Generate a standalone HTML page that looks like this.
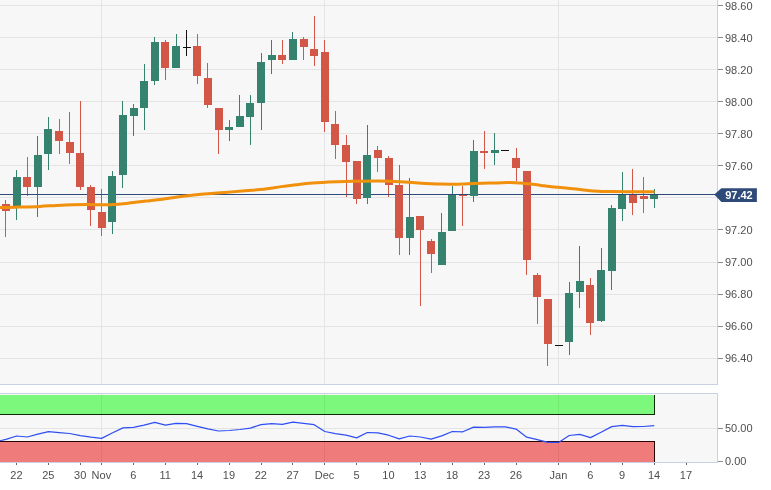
<!DOCTYPE html>
<html><head><meta charset="utf-8"><title>Chart</title>
<style>html,body{margin:0;padding:0;background:#fff}svg{display:block}text{font-family:"Liberation Sans",Arial,sans-serif;font-size:11px;fill:#4f4f4f}</style></head><body>
<svg width="771" height="490" viewBox="0 0 771 490">
<rect width="771" height="490" fill="#fff"/>
<g shape-rendering="crispEdges">
<rect x="0" y="0" width="717" height="384" fill="#f7f7f7"/>
<rect x="0" y="394" width="717" height="68" fill="#f7f7f7"/>
<rect x="0" y="5" width="717" height="1" fill="#e4e4e4"/>
<rect x="0" y="37" width="717" height="1" fill="#e4e4e4"/>
<rect x="0" y="69" width="717" height="1" fill="#e4e4e4"/>
<rect x="0" y="101" width="717" height="1" fill="#e4e4e4"/>
<rect x="0" y="133" width="717" height="1" fill="#e4e4e4"/>
<rect x="0" y="165" width="717" height="1" fill="#e4e4e4"/>
<rect x="0" y="197" width="717" height="1" fill="#e4e4e4"/>
<rect x="0" y="229" width="717" height="1" fill="#e4e4e4"/>
<rect x="0" y="262" width="717" height="1" fill="#e4e4e4"/>
<rect x="0" y="294" width="717" height="1" fill="#e4e4e4"/>
<rect x="0" y="326" width="717" height="1" fill="#e4e4e4"/>
<rect x="0" y="358" width="717" height="1" fill="#e4e4e4"/>
<rect x="0" y="428" width="717" height="1" fill="#e4e4e4"/>
<rect x="101" y="0" width="1" height="384" fill="#e4e4e4"/>
<rect x="101" y="394" width="1" height="68" fill="#e4e4e4"/>
<rect x="324" y="0" width="1" height="384" fill="#e4e4e4"/>
<rect x="324" y="394" width="1" height="68" fill="#e4e4e4"/>
<rect x="558" y="0" width="1" height="384" fill="#e4e4e4"/>
<rect x="558" y="394" width="1" height="68" fill="#e4e4e4"/>
<rect x="0" y="384" width="718" height="1" fill="#cbd0e4"/>
<rect x="0" y="393" width="718" height="1" fill="#cbd0e4"/>
<rect x="0" y="462" width="718" height="1" fill="#cbd0e4"/>
<rect x="717" y="0" width="1" height="385" fill="#cbd0e4"/>
<rect x="717" y="393" width="1" height="70" fill="#cbd0e4"/>
<rect x="5" y="200" width="1" height="37" fill="#d35746"/>
<rect x="16" y="170" width="1" height="50" fill="#35836f"/>
<rect x="27" y="157" width="1" height="39" fill="#d35746"/>
<rect x="37" y="136" width="1" height="81" fill="#35836f"/>
<rect x="48" y="117" width="1" height="53" fill="#35836f"/>
<rect x="59" y="119" width="1" height="35" fill="#d35746"/>
<rect x="69" y="112" width="1" height="52" fill="#d35746"/>
<rect x="80" y="101" width="1" height="89" fill="#d35746"/>
<rect x="90" y="185" width="1" height="41" fill="#d35746"/>
<rect x="101" y="189" width="1" height="47" fill="#d35746"/>
<rect x="112" y="171" width="1" height="63" fill="#35836f"/>
<rect x="122" y="101" width="1" height="87" fill="#35836f"/>
<rect x="133" y="104" width="1" height="32" fill="#35836f"/>
<rect x="144" y="64" width="1" height="66" fill="#35836f"/>
<rect x="154" y="37" width="1" height="48" fill="#35836f"/>
<rect x="165" y="40" width="1" height="40" fill="#d35746"/>
<rect x="176" y="34" width="1" height="34" fill="#35836f"/>
<rect x="186" y="30" width="1" height="26" fill="#111"/>
<rect x="197" y="34" width="1" height="50" fill="#d35746"/>
<rect x="207" y="63" width="1" height="45" fill="#d35746"/>
<rect x="218" y="108" width="1" height="46" fill="#d35746"/>
<rect x="229" y="120" width="1" height="21" fill="#35836f"/>
<rect x="239" y="95" width="1" height="32" fill="#35836f"/>
<rect x="250" y="95" width="1" height="50" fill="#35836f"/>
<rect x="261" y="53" width="1" height="77" fill="#35836f"/>
<rect x="271" y="40" width="1" height="34" fill="#35836f"/>
<rect x="282" y="40" width="1" height="24" fill="#d35746"/>
<rect x="292" y="32" width="1" height="28" fill="#35836f"/>
<rect x="303" y="37" width="1" height="23" fill="#d35746"/>
<rect x="314" y="16" width="1" height="50" fill="#d35746"/>
<rect x="324" y="40" width="1" height="92" fill="#d35746"/>
<rect x="335" y="111" width="1" height="48" fill="#d35746"/>
<rect x="346" y="135" width="1" height="62" fill="#d35746"/>
<rect x="356" y="161" width="1" height="43" fill="#d35746"/>
<rect x="367" y="125" width="1" height="79" fill="#35836f"/>
<rect x="377" y="146" width="1" height="26" fill="#d35746"/>
<rect x="388" y="156" width="1" height="41" fill="#d35746"/>
<rect x="399" y="165" width="1" height="90" fill="#d35746"/>
<rect x="409" y="178" width="1" height="77" fill="#35836f"/>
<rect x="420" y="216" width="1" height="90" fill="#d35746"/>
<rect x="431" y="239" width="1" height="34" fill="#d35746"/>
<rect x="441" y="213" width="1" height="52" fill="#35836f"/>
<rect x="452" y="186" width="1" height="45" fill="#35836f"/>
<rect x="462" y="186" width="1" height="40" fill="#d35746"/>
<rect x="473" y="140" width="1" height="62" fill="#35836f"/>
<rect x="484" y="131" width="1" height="38" fill="#d35746"/>
<rect x="494" y="133" width="1" height="32" fill="#35836f"/>
<rect x="516" y="148" width="1" height="33" fill="#d35746"/>
<rect x="526" y="171" width="1" height="104" fill="#d35746"/>
<rect x="537" y="273" width="1" height="51" fill="#d35746"/>
<rect x="547" y="299" width="1" height="67" fill="#d35746"/>
<rect x="569" y="282" width="1" height="73" fill="#35836f"/>
<rect x="579" y="246" width="1" height="62" fill="#35836f"/>
<rect x="590" y="278" width="1" height="57" fill="#d35746"/>
<rect x="601" y="248" width="1" height="74" fill="#35836f"/>
<rect x="611" y="205" width="1" height="85" fill="#35836f"/>
<rect x="622" y="172" width="1" height="49" fill="#35836f"/>
<rect x="632" y="169" width="1" height="46" fill="#d35746"/>
<rect x="643" y="177" width="1" height="36" fill="#d35746"/>
<rect x="654" y="189" width="1" height="19" fill="#35836f"/>
<rect x="0" y="194" width="717" height="1" fill="#2e4a78"/>
<rect x="2" y="204" width="8" height="7" fill="#d35746"/>
<rect x="13" y="177" width="8" height="29" fill="#35836f"/>
<rect x="23" y="177" width="8" height="10" fill="#d35746"/>
<rect x="34" y="155" width="8" height="32" fill="#35836f"/>
<rect x="44" y="129" width="8" height="25" fill="#35836f"/>
<rect x="55" y="131" width="8" height="10" fill="#d35746"/>
<rect x="66" y="142" width="8" height="11" fill="#d35746"/>
<rect x="76" y="153" width="8" height="34" fill="#d35746"/>
<rect x="87" y="187" width="8" height="23" fill="#d35746"/>
<rect x="98" y="212" width="8" height="16" fill="#d35746"/>
<rect x="108" y="176" width="8" height="46" fill="#35836f"/>
<rect x="119" y="115" width="8" height="60" fill="#35836f"/>
<rect x="130" y="108" width="8" height="8" fill="#35836f"/>
<rect x="140" y="81" width="8" height="27" fill="#35836f"/>
<rect x="151" y="42" width="8" height="39" fill="#35836f"/>
<rect x="161" y="42" width="8" height="26" fill="#d35746"/>
<rect x="172" y="46" width="8" height="22" fill="#35836f"/>
<rect x="183" y="47" width="8" height="1" fill="#111"/>
<rect x="193" y="46" width="8" height="30" fill="#d35746"/>
<rect x="204" y="78" width="8" height="27" fill="#d35746"/>
<rect x="215" y="108" width="8" height="22" fill="#d35746"/>
<rect x="225" y="127" width="8" height="3" fill="#35836f"/>
<rect x="236" y="116" width="8" height="11" fill="#35836f"/>
<rect x="246" y="103" width="8" height="14" fill="#35836f"/>
<rect x="257" y="62" width="8" height="41" fill="#35836f"/>
<rect x="268" y="55" width="8" height="5" fill="#35836f"/>
<rect x="278" y="55" width="8" height="5" fill="#d35746"/>
<rect x="289" y="39" width="8" height="21" fill="#35836f"/>
<rect x="300" y="39" width="8" height="8" fill="#d35746"/>
<rect x="310" y="49" width="8" height="7" fill="#d35746"/>
<rect x="321" y="52" width="8" height="70" fill="#d35746"/>
<rect x="331" y="124" width="8" height="21" fill="#d35746"/>
<rect x="342" y="145" width="8" height="17" fill="#d35746"/>
<rect x="353" y="161" width="8" height="38" fill="#d35746"/>
<rect x="363" y="155" width="8" height="43" fill="#35836f"/>
<rect x="374" y="150" width="8" height="8" fill="#d35746"/>
<rect x="385" y="158" width="8" height="27" fill="#d35746"/>
<rect x="395" y="185" width="8" height="53" fill="#d35746"/>
<rect x="406" y="217" width="8" height="21" fill="#35836f"/>
<rect x="416" y="216" width="8" height="14" fill="#d35746"/>
<rect x="427" y="241" width="8" height="13" fill="#d35746"/>
<rect x="438" y="232" width="8" height="33" fill="#35836f"/>
<rect x="448" y="195" width="8" height="36" fill="#35836f"/>
<rect x="459" y="195" width="8" height="1" fill="#d35746"/>
<rect x="470" y="151" width="8" height="45" fill="#35836f"/>
<rect x="480" y="151" width="8" height="2" fill="#d35746"/>
<rect x="491" y="150" width="8" height="3" fill="#35836f"/>
<rect x="501" y="150" width="8" height="1" fill="#111"/>
<rect x="512" y="158" width="8" height="10" fill="#d35746"/>
<rect x="523" y="171" width="8" height="89" fill="#d35746"/>
<rect x="533" y="275" width="8" height="22" fill="#d35746"/>
<rect x="544" y="299" width="8" height="45" fill="#d35746"/>
<rect x="555" y="345" width="8" height="1" fill="#111"/>
<rect x="565" y="293" width="8" height="49" fill="#35836f"/>
<rect x="576" y="281" width="8" height="11" fill="#35836f"/>
<rect x="586" y="285" width="8" height="38" fill="#d35746"/>
<rect x="597" y="270" width="8" height="51" fill="#35836f"/>
<rect x="608" y="208" width="8" height="63" fill="#35836f"/>
<rect x="618" y="195" width="8" height="14" fill="#35836f"/>
<rect x="629" y="195" width="8" height="8" fill="#d35746"/>
<rect x="640" y="196" width="8" height="3" fill="#d35746"/>
<rect x="650" y="195" width="8" height="4" fill="#35836f"/>
</g>
<path fill="none" stroke="#f0900c" stroke-width="3" d="M-3.0 207.6 C-2.5 207.6 -3.8 207.6 0.0 207.5 C3.8 207.4 13.3 207.3 20.0 207.1 C26.7 206.9 33.9 206.7 40.0 206.4 C46.1 206.1 51.1 205.7 56.6 205.4 C62.1 205.1 67.8 204.8 73.0 204.7 C78.2 204.6 82.8 204.6 88.0 204.6 C93.2 204.6 99.9 204.8 104.0 204.8 C108.1 204.8 109.8 204.7 112.6 204.6 C115.4 204.5 118.1 204.2 120.9 204.0 C123.7 203.8 126.4 203.4 129.2 203.1 C132.0 202.8 134.7 202.4 137.5 202.1 C140.3 201.8 141.7 201.6 145.8 201.1 C149.9 200.6 156.0 200.0 162.2 199.2 C168.4 198.4 176.1 197.2 183.0 196.3 C189.9 195.4 196.8 194.6 203.7 194.0 C210.6 193.4 217.6 193.1 224.5 192.5 C231.4 191.9 239.3 191.2 245.2 190.7 C251.1 190.2 254.9 190.1 260.0 189.6 C265.1 189.1 269.6 188.2 275.7 187.4 C281.8 186.6 290.3 185.4 296.5 184.7 C302.7 183.9 306.1 183.4 313.0 182.9 C319.9 182.4 330.4 182.0 338.0 181.7 C345.6 181.4 351.8 181.4 358.7 181.3 C365.6 181.2 372.6 181.0 379.5 181.1 C386.4 181.2 394.1 181.5 400.0 181.8 C405.9 182.1 408.3 182.3 415.0 182.7 C421.7 183.1 433.0 183.8 440.0 184.1 C447.0 184.3 451.3 184.3 456.9 184.2 C462.5 184.1 468.1 183.8 473.7 183.6 C479.3 183.4 485.0 183.3 490.6 183.1 C496.2 182.9 503.3 182.7 507.5 182.6 C511.7 182.5 513.1 182.6 515.9 182.7 C518.7 182.8 521.5 183.2 524.3 183.4 C527.1 183.7 529.9 183.9 532.7 184.2 C535.5 184.5 538.4 185.0 541.2 185.4 C544.0 185.8 546.8 186.3 549.6 186.6 C552.4 186.9 554.6 187.0 558.0 187.3 C561.4 187.6 566.0 188.0 570.0 188.4 C574.0 188.8 578.0 189.3 582.0 189.7 C586.0 190.1 589.0 190.6 593.7 190.9 C598.4 191.2 604.0 191.5 610.0 191.6 C616.0 191.7 622.6 191.7 630.0 191.7 C637.4 191.7 650.3 191.7 654.4 191.7"/>
<g shape-rendering="crispEdges">
<rect x="0" y="395" width="654" height="19" fill="#7cf87c"/>
<rect x="0" y="414" width="655" height="1" fill="#0c2a04"/>
<rect x="654" y="395" width="1" height="20" fill="#0c2a04"/>
<rect x="0" y="442" width="654" height="20" fill="#f07b7b"/>
<rect x="0" y="441" width="655" height="1" fill="#2a0505"/>
<rect x="654" y="441" width="1" height="21" fill="#2a0505"/>
<rect x="101" y="395" width="1" height="19" fill="#000" fill-opacity="0.06"/>
<rect x="101" y="442" width="1" height="20" fill="#000" fill-opacity="0.06"/>
<rect x="324" y="395" width="1" height="19" fill="#000" fill-opacity="0.06"/>
<rect x="324" y="442" width="1" height="20" fill="#000" fill-opacity="0.06"/>
<rect x="558" y="395" width="1" height="19" fill="#000" fill-opacity="0.06"/>
<rect x="558" y="442" width="1" height="20" fill="#000" fill-opacity="0.06"/>
</g>
<polyline fill="none" stroke="#2f4ff5" stroke-width="1.2" stroke-linejoin="round" points="-4.6,441.8 6.0,439.4 16.6,436.0 27.2,437.0 37.9,434.2 48.5,431.7 59.1,432.7 69.7,433.5 80.4,435.7 91.0,437.2 101.6,438.4 112.2,433.0 122.9,427.9 133.5,427.4 144.1,425.1 154.8,422.4 165.4,425.2 176.0,423.4 186.6,423.6 197.3,426.3 207.9,428.8 218.5,431.0 229.1,430.5 239.8,429.5 250.4,428.1 261.0,424.6 271.7,423.7 282.3,424.4 292.9,422.2 303.5,423.4 314.2,424.7 324.8,431.5 335.4,433.7 346.0,435.2 356.7,437.9 367.3,432.5 377.9,432.8 388.6,435.2 399.2,438.9 409.8,436.0 420.4,437.0 431.1,439.1 441.7,435.9 452.3,431.5 462.9,431.8 473.6,427.1 484.2,427.4 494.8,426.9 505.4,426.8 516.1,429.1 526.7,437.2 537.3,439.7 548.0,442.4 558.6,442.4 569.2,435.5 579.8,434.4 590.5,437.6 601.1,432.2 611.7,426.6 622.3,425.4 633.0,426.7 643.6,426.5 654.2,425.7"/>
<g shape-rendering="crispEdges">
<rect x="718" y="5" width="5" height="1" fill="#8c8c8c"/>
<rect x="718" y="37" width="5" height="1" fill="#8c8c8c"/>
<rect x="718" y="69" width="5" height="1" fill="#8c8c8c"/>
<rect x="718" y="101" width="5" height="1" fill="#8c8c8c"/>
<rect x="718" y="133" width="5" height="1" fill="#8c8c8c"/>
<rect x="718" y="165" width="5" height="1" fill="#8c8c8c"/>
<rect x="718" y="229" width="5" height="1" fill="#8c8c8c"/>
<rect x="718" y="262" width="5" height="1" fill="#8c8c8c"/>
<rect x="718" y="294" width="5" height="1" fill="#8c8c8c"/>
<rect x="718" y="326" width="5" height="1" fill="#8c8c8c"/>
<rect x="718" y="358" width="5" height="1" fill="#8c8c8c"/>
<rect x="718" y="428" width="5" height="1" fill="#8c8c8c"/>
<rect x="718" y="461" width="5" height="1" fill="#8c8c8c"/>
<rect x="16" y="463" width="1" height="2" fill="#666"/>
<rect x="48" y="463" width="1" height="2" fill="#666"/>
<rect x="80" y="463" width="1" height="2" fill="#666"/>
<rect x="101" y="463" width="1" height="2" fill="#666"/>
<rect x="133" y="463" width="1" height="2" fill="#666"/>
<rect x="165" y="463" width="1" height="2" fill="#666"/>
<rect x="197" y="463" width="1" height="2" fill="#666"/>
<rect x="229" y="463" width="1" height="2" fill="#666"/>
<rect x="261" y="463" width="1" height="2" fill="#666"/>
<rect x="292" y="463" width="1" height="2" fill="#666"/>
<rect x="324" y="463" width="1" height="2" fill="#666"/>
<rect x="356" y="463" width="1" height="2" fill="#666"/>
<rect x="388" y="463" width="1" height="2" fill="#666"/>
<rect x="420" y="463" width="1" height="2" fill="#666"/>
<rect x="452" y="463" width="1" height="2" fill="#666"/>
<rect x="484" y="463" width="1" height="2" fill="#666"/>
<rect x="516" y="463" width="1" height="2" fill="#666"/>
<rect x="558" y="463" width="1" height="2" fill="#666"/>
<rect x="590" y="463" width="1" height="2" fill="#666"/>
<rect x="622" y="463" width="1" height="2" fill="#666"/>
<rect x="654" y="463" width="1" height="2" fill="#666"/>
<rect x="686" y="463" width="1" height="2" fill="#666"/>
</g>
<text x="725" y="10">98.60</text>
<text x="725" y="42">98.40</text>
<text x="725" y="74">98.20</text>
<text x="725" y="106">98.00</text>
<text x="725" y="138">97.80</text>
<text x="725" y="170">97.60</text>
<text x="725" y="234">97.20</text>
<text x="725" y="266">97.00</text>
<text x="725" y="298">96.80</text>
<text x="725" y="330">96.60</text>
<text x="725" y="362">96.40</text>
<text x="725" y="432">50.00</text>
<text x="725" y="465">0.00</text>
<text x="16.4" y="479" text-anchor="middle">22</text>
<text x="48.3" y="479" text-anchor="middle">25</text>
<text x="80.2" y="479" text-anchor="middle">30</text>
<text x="101.4" y="479" text-anchor="middle">Nov</text>
<text x="133.3" y="479" text-anchor="middle">6</text>
<text x="165.2" y="479" text-anchor="middle">11</text>
<text x="197.1" y="479" text-anchor="middle">14</text>
<text x="228.9" y="479" text-anchor="middle">19</text>
<text x="260.8" y="479" text-anchor="middle">22</text>
<text x="292.7" y="479" text-anchor="middle">27</text>
<text x="324.6" y="479" text-anchor="middle">Dec</text>
<text x="356.5" y="479" text-anchor="middle">5</text>
<text x="388.4" y="479" text-anchor="middle">10</text>
<text x="420.2" y="479" text-anchor="middle">13</text>
<text x="452.1" y="479" text-anchor="middle">18</text>
<text x="484.0" y="479" text-anchor="middle">23</text>
<text x="515.9" y="479" text-anchor="middle">26</text>
<text x="558.4" y="479" text-anchor="middle">Jan</text>
<text x="590.3" y="479" text-anchor="middle">6</text>
<text x="622.1" y="479" text-anchor="middle">9</text>
<text x="654.0" y="479" text-anchor="middle">14</text>
<text x="685.9" y="479" text-anchor="middle">17</text>
<path d="M714.3 194.6 L721.4 188.2 H756.9 V201.9 H721.4 Z" fill="#2e4a78"/>
<text x="725.2" y="199" style="font-weight:bold;fill:#fff">97.42</text>
</svg></body></html>
